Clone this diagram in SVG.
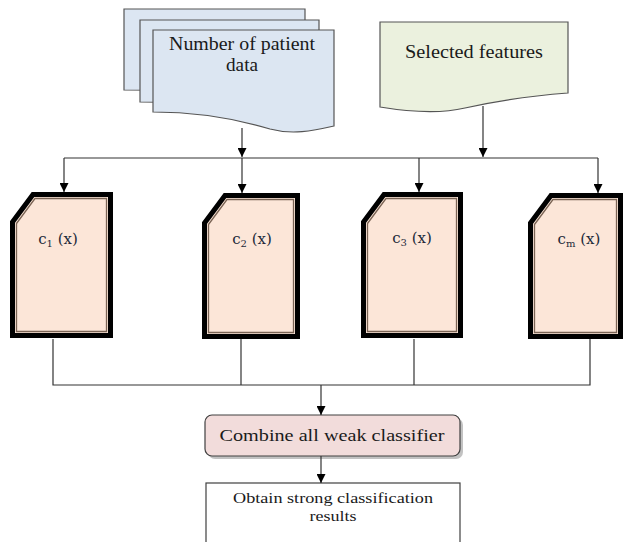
<svg xmlns="http://www.w3.org/2000/svg" width="626" height="542" viewBox="0 0 626 542">
<style>
text{font-family:"Liberation Serif","Times New Roman",serif;fill:#1a1a1a}
.doc{fill:#dce6f2;stroke:#555;stroke-width:1.2}
.feat{fill:#ebf1de;stroke:#555;stroke-width:1.2}
.outer{fill:#fce6d8;stroke:#000;stroke-width:5;stroke-linejoin:miter}
.inner{fill:none;stroke:#7a6455;stroke-width:1.3}
.c{font-family:"DejaVu Serif","Liberation Serif",serif;font-size:15px;text-anchor:middle;fill:#1e2a3a}
.c tspan.s{font-size:10px}
.ln{fill:none;stroke:#333;stroke-width:1.2}
.lbl{text-anchor:middle}
</style>
<defs>
<marker id="ah" viewBox="0 0 10 10" refX="10" refY="5" markerWidth="9" markerHeight="9" markerUnits="userSpaceOnUse" orient="auto">
<path d="M0,0 L10,5 L0,10 Z" fill="#000"/>
</marker>
</defs>

<g id="patient-data">
<path class="doc" d="M124,9 H305 V96 C283,101 265,104 245,98 C215,90 175,90 124,90 Z"/>
<path class="doc" d="M140,20 H319 V110 C297,115 279,118 259,112 C229,104 189,102 140,102 Z"/>
<path class="doc" d="M153,30 H334 V126 C312,131 292,135 270,129 C240,120 200,112 153,112 Z"/>
<text class="lbl" x="242" y="50" font-size="18" textLength="146" lengthAdjust="spacingAndGlyphs">Number of patient</text>
<text class="lbl" x="242" y="71" font-size="18" textLength="32" lengthAdjust="spacingAndGlyphs">data</text>
</g>

<g id="selected-features">
<path class="feat" d="M380,22 H568 V93 C530,96 500,100 465,108 C440,114 410,112 380,107 Z"/>
<text class="lbl" x="474" y="58" font-size="18" textLength="138" lengthAdjust="spacingAndGlyphs">Selected features</text>
</g>

<g id="c1" transform="translate(10,192)">
<path class="outer" d="M2.5,30 L23,2.5 H100.5 V143.5 H2.5 Z"/>
<path class="inner" d="M6.5,31.5 L25,6.5 H96.5 V139.5 H6.5 Z"/>
<text class="c" x="48" y="52">c<tspan class="s" dy="3">1</tspan><tspan dy="-3"> (x)</tspan></text>
</g>

<g id="c2" transform="translate(202,193)">
<path class="outer" d="M2.5,30 L23,2.5 H95.5 V143.5 H2.5 Z"/>
<path class="inner" d="M6.5,31.5 L25,6.5 H91.5 V139.5 H6.5 Z"/>
<text class="c" x="50" y="51">c<tspan class="s" dy="3">2</tspan><tspan dy="-3"> (x)</tspan></text>
</g>

<g id="c3" transform="translate(361,192)">
<path class="outer" d="M2.5,30 L23,2.5 H99.5 V143.5 H2.5 Z"/>
<path class="inner" d="M6.5,31.5 L25,6.5 H95.5 V139.5 H6.5 Z"/>
<text class="c" x="51" y="51">c<tspan class="s" dy="3">3</tspan><tspan dy="-3"> (x)</tspan></text>
</g>

<g id="cm" transform="translate(528,193)">
<path class="outer" d="M2.5,30 L23,2.5 H92.5 V143.5 H2.5 Z"/>
<path class="inner" d="M6.5,31.5 L25,6.5 H88.5 V139.5 H6.5 Z"/>
<text class="c" x="51" y="51">c<tspan class="s" dy="3">m</tspan><tspan dy="-3"> (x)</tspan></text>
</g>

<g id="combine">
<rect x="208" y="418" width="255" height="41" rx="7" fill="#9a9a9a" opacity="0.6"/>
<rect x="205" y="415" width="255" height="41" rx="7" fill="#f2dcdb" stroke="#404040" stroke-width="1.2"/>
<text class="lbl" x="332" y="441" font-size="17" textLength="225" lengthAdjust="spacingAndGlyphs">Combine all weak classifier</text>
</g>

<g id="result">
<rect x="206" y="483" width="254" height="70" fill="#fff" stroke="#404040" stroke-width="1.2"/>
<text class="lbl" x="333" y="503" font-size="14.5" textLength="200" lengthAdjust="spacingAndGlyphs">Obtain strong classification</text>
<text class="lbl" x="333" y="521" font-size="14.5" textLength="47" lengthAdjust="spacingAndGlyphs">results</text>
</g>

<g id="connectors">
<path class="ln" d="M242,128 V157" marker-end="url(#ah)"/>
<path class="ln" d="M483,106 V157" marker-end="url(#ah)"/>
<path class="ln" d="M64,158 H598"/>
<path class="ln" d="M64,158 V192" marker-end="url(#ah)"/>
<path class="ln" d="M242,158 V193" marker-end="url(#ah)"/>
<path class="ln" d="M419,158 V192" marker-end="url(#ah)"/>
<path class="ln" d="M598,158 V193" marker-end="url(#ah)"/>
<path class="ln" d="M53,339 V385 H590 V339"/>
<path class="ln" d="M241,339 V385"/>
<path class="ln" d="M414,339 V385"/>
<path class="ln" d="M321,385 V415" marker-end="url(#ah)"/>
<path class="ln" d="M321,456 V483" marker-end="url(#ah)"/>
</g>
</svg>
